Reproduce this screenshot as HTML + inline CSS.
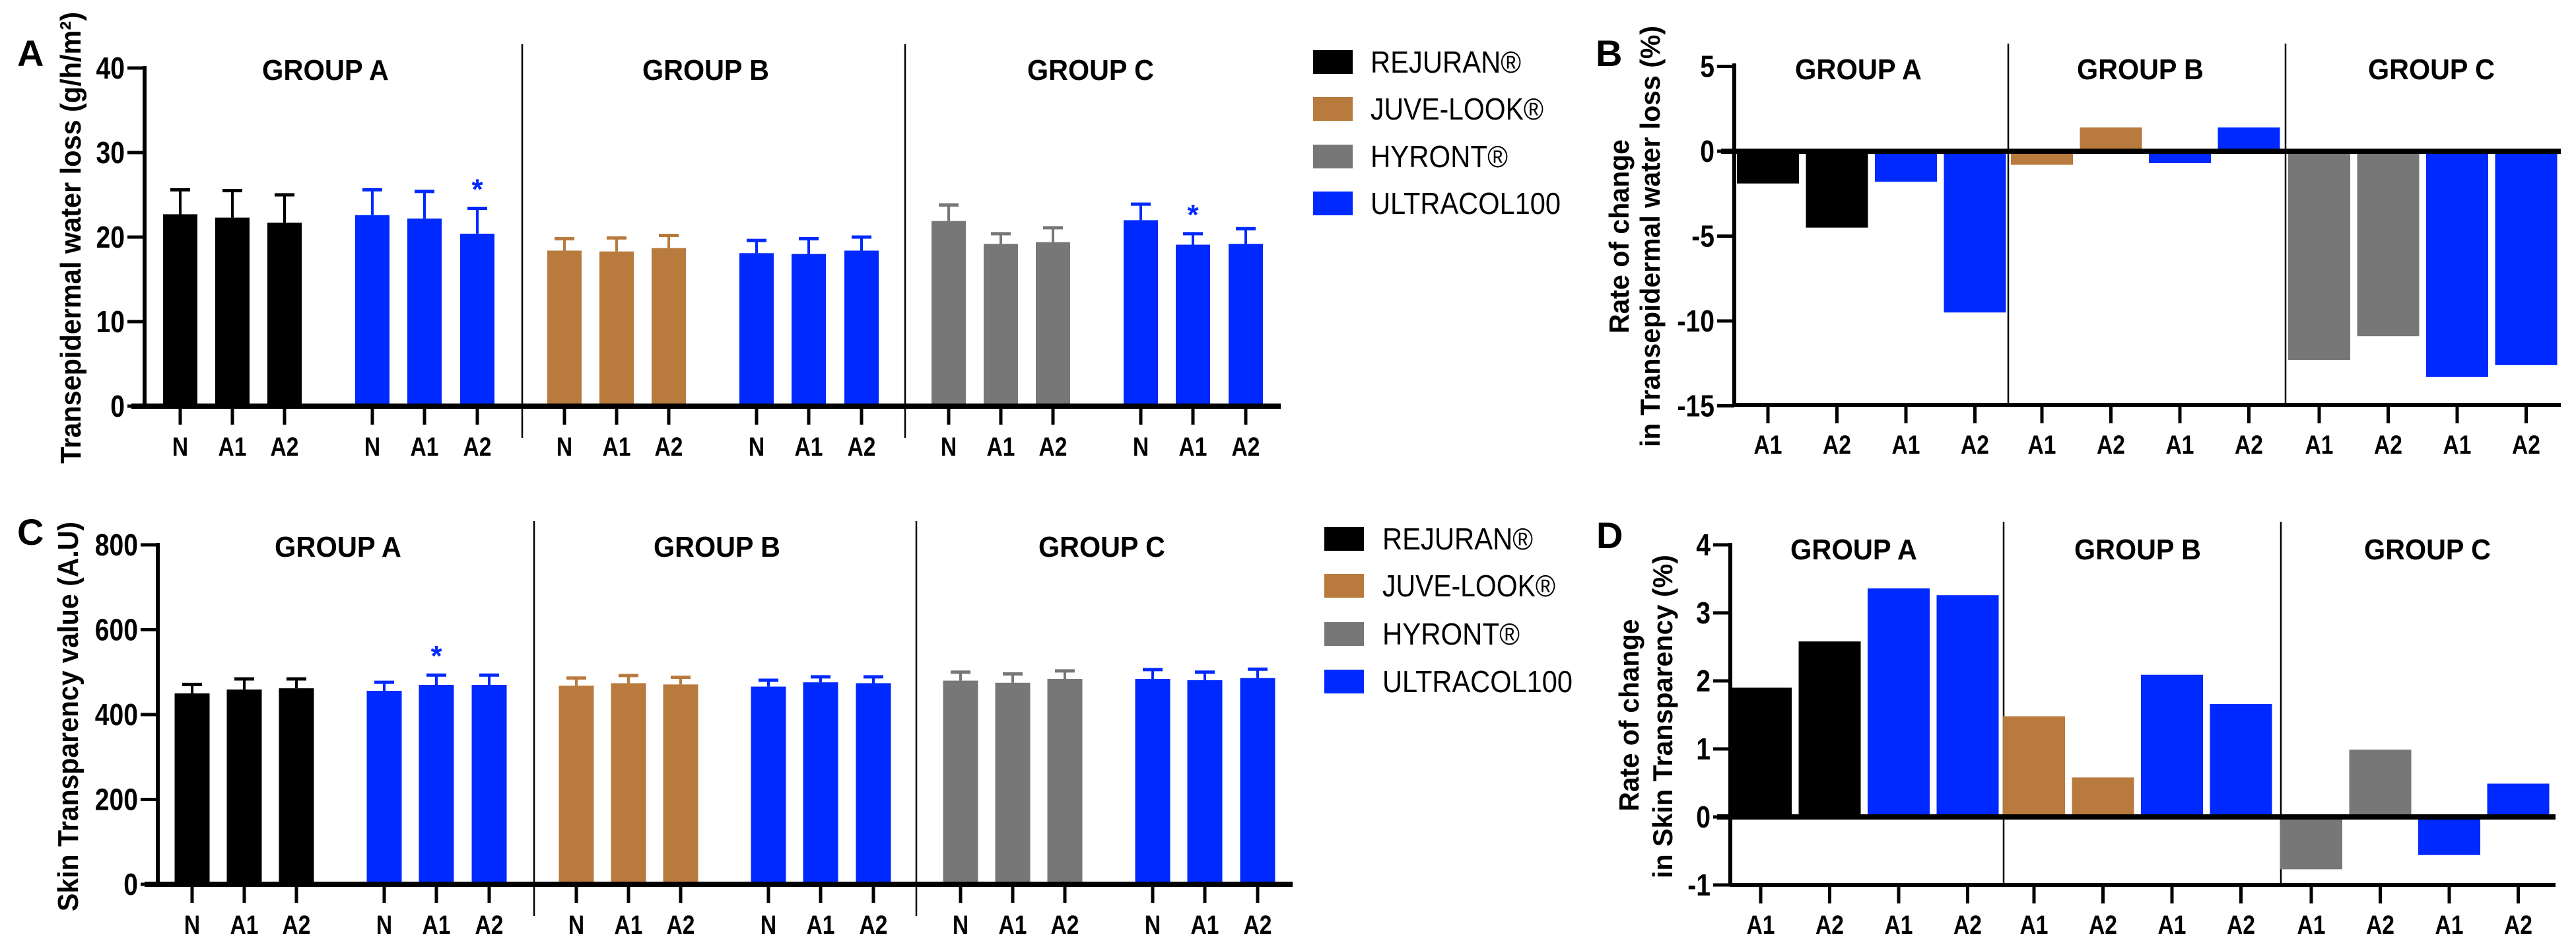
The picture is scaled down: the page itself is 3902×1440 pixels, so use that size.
<!DOCTYPE html>
<html><head><meta charset="utf-8"><style>
html,body{margin:0;padding:0;background:#fff;}
svg{display:block;font-family:"Liberation Sans",Arial,sans-serif;}
</style></head><body>
<svg id="fig" width="3902" height="1440" viewBox="0 0 3902 1440" xmlns="http://www.w3.org/2000/svg"></svg>
<script>
// ---- Panel A data (TEWL) ----
const tewlCats = ["N","A1","A2","N","A1","A2"];
const tewlGroupA = [22.7,22.3,21.7,22.6,22.2,20.4];
const tewlGroupAErr = [2.9,3.2,3.3,3.0,3.2,3.0];
const tewlGroupB = [18.4,18.3,18.7,18.1,18.0,18.4];
const tewlGroupBErr = [1.4,1.6,1.5,1.5,1.8,1.6];
const tewlGroupC = [21.9,19.2,19.4,22.0,19.1,19.2];
const tewlGroupCErr = [1.9,1.2,1.7,1.9,1.3,1.8];
const tewlTicks = [0,10,20,30,40];
// ---- Panel B data (rate TEWL) ----
const rateCats = ["A1","A2","A1","A2"];
const rateTewlA = [-1.9,-4.5,-1.8,-9.5];
const rateTewlB = [-0.8,1.4,-0.7,1.4];
const rateTewlC = [-12.3,-10.9,-13.3,-12.6];
const rateTewlTicks = [5,0,-5,-10,-15];
// ---- Panel C data (transparency) ----
const stGroupA = [450,459,462,456,470,470];
const stGroupAErr = [21,25,22,20,23,23];
const stGroupB = [468,474,471,466,476,474];
const stGroupBErr = [18,18,17,15,13,15];
const stGroupC = [480,475,484,484,481,486];
const stGroupCErr = [20,21,19,22,19,21];
const stTicks = [0,200,400,600,800];
// ---- Panel D data (rate transparency) ----
const rateStA = [1.9,2.58,3.36,3.26];
const rateStB = [1.48,0.58,2.09,1.66];
const rateStC = [-0.77,0.99,-0.56,0.49];
const rateStTicks = [4,3,2,1,0,-1];
const groupNames = ["GROUP A","GROUP B","GROUP C"];
const legendNames = ["REJURAN®","JUVE-LOOK®","HYRONT®","ULTRACOL100"];

const COL = {black:"#000000",brown:"#b87a3d",grey:"#777777",blue:"#0029ff"};
const NS="http://www.w3.org/2000/svg";
const svg=document.getElementById("fig");
function mk(tag,attrs,parent,text){
  const e=document.createElementNS(NS,tag);
  for(const k in attrs) e.setAttribute(k,attrs[k]);
  if(text!==undefined) e.textContent=text;
  (parent||svg).appendChild(e);return e;
}

function barPanel(o){
  const g=mk("g",{});
  
  
  const y=v=>o.y0-v*o.ppu;
  o.seps.forEach(sx=>{
    const l=mk("line",{x1:sx,x2:sx,y1:o.sepTop,y2:o.sepBot,stroke:"#000","stroke-width":2.5},g);
    
    
  });
  o.groups.forEach((grp,gi)=>{
    grp.vals.forEach((v,i)=>{
      const cx=o.x(gi,i);
      const col=grp.cols[i];
      const top=Math.min(y(v),o.y0), h=Math.abs(y(v)-o.y0);
      const r=mk("rect",{x:cx-o.bw/2,y:top,width:o.bw,height:h,fill:col},g);
      
      
      if(grp.err){
        const et=y(v+grp.err[i]);
        const ec=col===COL.black?"#000":col;
        const e1=mk("line",{x1:cx,x2:cx,y1:y(v),y2:et,stroke:ec,"stroke-width":4},g);
        
        
        mk("line",{x1:cx-15,x2:cx+15,y1:et,y2:et,stroke:ec,"stroke-width":5},g);
      }
      if(grp.star && grp.star[i]){
        const s=mk("text",{x:cx,y:y(v+grp.err[i])-14,"font-size":44,"font-weight":"bold",fill:COL.blue,"text-anchor":"middle"},g,"*");
        
        
      }
      mk("line",{x1:cx,x2:cx,y1:o.tickY0,y2:o.tickY0+28,stroke:"#000","stroke-width":5},g);
      const t=mk("text",{x:0,y:0,"font-size":40,"font-weight":"bold","text-anchor":"middle",transform:`translate(${cx},${o.labY+4}) scale(0.84,1)`},g,o.cats[i]);
      
      
    });
    const gt=mk("text",{x:o.titleX[gi],y:o.titleY+2,"font-size":44,"font-weight":"bold","text-anchor":"middle",textLength:192,lengthAdjust:"spacingAndGlyphs"},g,groupNames[gi]);
    
    
  });
  const za=mk("line",{x1:o.axX-20,x2:o.axEnd,y1:o.y0,y2:o.y0,stroke:"#000","stroke-width":8},g);
  
  
  if(o.bottomAxis!==undefined){
    mk("line",{x1:o.axX,x2:o.axEnd,y1:o.bottomAxis,y2:o.bottomAxis,stroke:"#000","stroke-width":6},g);
  }
  const ya=mk("line",{x1:o.axX,x2:o.axX,y1:o.axTop,y2:o.axBot,stroke:"#000","stroke-width":6},g);
  
  
  o.ticks.forEach(tv=>{
    mk("line",{x1:o.axX-26,x2:o.axX,y1:y(tv),y2:y(tv),stroke:"#000","stroke-width":5},g);
    const tl=mk("text",{x:0,y:0,"font-size":46,"font-weight":"bold","text-anchor":"end",transform:`translate(${o.axX-30},${y(tv)+16}) scale(0.85,1)`},g,tv);
    
    
  });
  const pl=mk("text",{x:o.letterX,y:o.letterY,"font-size":56,"font-weight":"bold"},g,o.letter);
  
  
  o.yTitle.forEach(t=>{
    const yt=mk("text",{x:0,y:0,"font-size":t.fs,"font-weight":"bold","text-anchor":"middle",textLength:t.len,lengthAdjust:"spacingAndGlyphs",transform:`translate(${t.x},${t.y}) rotate(-90)`},g,t.text);
    
    
  });
}

function legend(x,sx,ys){
  const g=mk("g",{});
  
  
  const cols=[COL.black,COL.brown,COL.grey,COL.blue];
  legendNames.forEach((n,i)=>{
    const r=mk("rect",{x:sx,y:ys[i]-18,width:60,height:36,fill:cols[i]},g);
    
    
    const lens=[228,262,208,288];
    const t=mk("text",{x:x,y:ys[i]+16,"font-size":46,textLength:lens[i],lengthAdjust:"spacingAndGlyphs"},g,n);
    
    
  });
}

const C6A=[COL.black,COL.black,COL.black,COL.blue,COL.blue,COL.blue];
const C6B=[COL.brown,COL.brown,COL.brown,COL.blue,COL.blue,COL.blue];
const C6C=[COL.grey,COL.grey,COL.grey,COL.blue,COL.blue,COL.blue];
const SLOT6=[0,79,158,291,370,450];

const aStarts=[219,791,1371], aOff=[54,64,66];
barPanel({name:"panel-a-tewl",letter:"A",letterX:26,letterY:100,
  y0:615,ppu:12.8,axX:219,axTop:100,axBot:615,axEnd:1940,
  seps:[791,1371],sepTop:67,sepBot:663,tickY0:615,labY:686,bw:52,
  x:(g,i)=>aStarts[g]+aOff[g]+SLOT6[i],cats:tewlCats,ticks:tewlTicks,
  titleX:[493,1069,1652],titleY:119,
  groups:[{vals:tewlGroupA,err:tewlGroupAErr,cols:C6A,star:[0,0,0,0,0,1]},
          {vals:tewlGroupB,err:tewlGroupBErr,cols:C6B},
          {vals:tewlGroupC,err:tewlGroupCErr,cols:C6C,star:[0,0,0,0,1,0]}],
  yTitle:[{text:"Transepidermal water loss (g/h/m²)",x:122,y:360,fs:44,len:684}]});
legend(2076,1989,[94,165,237,308]);

const bStarts=[2627,3042,3462];
barPanel({name:"panel-b-rate-tewl",letter:"B",letterX:2417,letterY:100,
  y0:229,ppu:25.7,axX:2627,axTop:96,axBot:613,axEnd:3879,bottomAxis:613,
  seps:[3042,3462],sepTop:66,sepBot:613,tickY0:613,labY:683,bw:94,
  x:(g,i)=>bStarts[g]+51+i*104.5,cats:rateCats,ticks:rateTewlTicks,
  titleX:[2815,3242,3683],titleY:118,
  groups:[{vals:rateTewlA,cols:[COL.black,COL.black,COL.blue,COL.blue]},
          {vals:rateTewlB,cols:[COL.brown,COL.brown,COL.blue,COL.blue]},
          {vals:rateTewlC,cols:[COL.grey,COL.grey,COL.blue,COL.blue]}],
  yTitle:[{text:"Rate of change",x:2467,y:358,fs:42,len:294},
          {text:"in Transepidermal water loss (%)",x:2514,y:358,fs:42,len:638}]});

const cStarts=[239,809,1388], cOff=[52,64,67];
barPanel({name:"panel-c-transparency",letter:"C",letterX:26,letterY:825,
  y0:1339,ppu:0.6425,axX:239,axTop:822,axBot:1339,axEnd:1958,
  seps:[809,1388],sepTop:789,sepBot:1387,tickY0:1339,labY:1410,bw:53,
  x:(g,i)=>cStarts[g]+cOff[g]+SLOT6[i],cats:tewlCats,ticks:stTicks,
  titleX:[512,1086,1669],titleY:841,
  groups:[{vals:stGroupA,err:stGroupAErr,cols:C6A,star:[0,0,0,0,1,0]},
          {vals:stGroupB,err:stGroupBErr,cols:C6B},
          {vals:stGroupC,err:stGroupCErr,cols:C6C}],
  yTitle:[{text:"Skin Transparency value (A.U)",x:118,y:1085,fs:44,len:590}]});
legend(2094,2006,[816,887,960,1032]);

const dStarts=[2621,3035,3455];
barPanel({name:"panel-d-rate-transparency",letter:"D",letterX:2418,letterY:830,
  y0:1237,ppu:103,axX:2621,axTop:822,axBot:1340,axEnd:3871,bottomAxis:1340,
  seps:[3035,3455],sepTop:790,sepBot:1340,tickY0:1340,labY:1410,bw:94,
  x:(g,i)=>dStarts[g]+46+i*104.5,cats:rateCats,ticks:rateStTicks,
  titleX:[2808,3238,3677],titleY:845,
  groups:[{vals:rateStA,cols:[COL.black,COL.black,COL.blue,COL.blue]},
          {vals:rateStB,cols:[COL.brown,COL.brown,COL.blue,COL.blue]},
          {vals:rateStC,cols:[COL.grey,COL.grey,COL.blue,COL.blue]}],
  yTitle:[{text:"Rate of change",x:2482,y:1083,fs:42,len:291},
          {text:"in Skin Transparency (%)",x:2533,y:1085,fs:42,len:490}]});
</script>
</body></html>
